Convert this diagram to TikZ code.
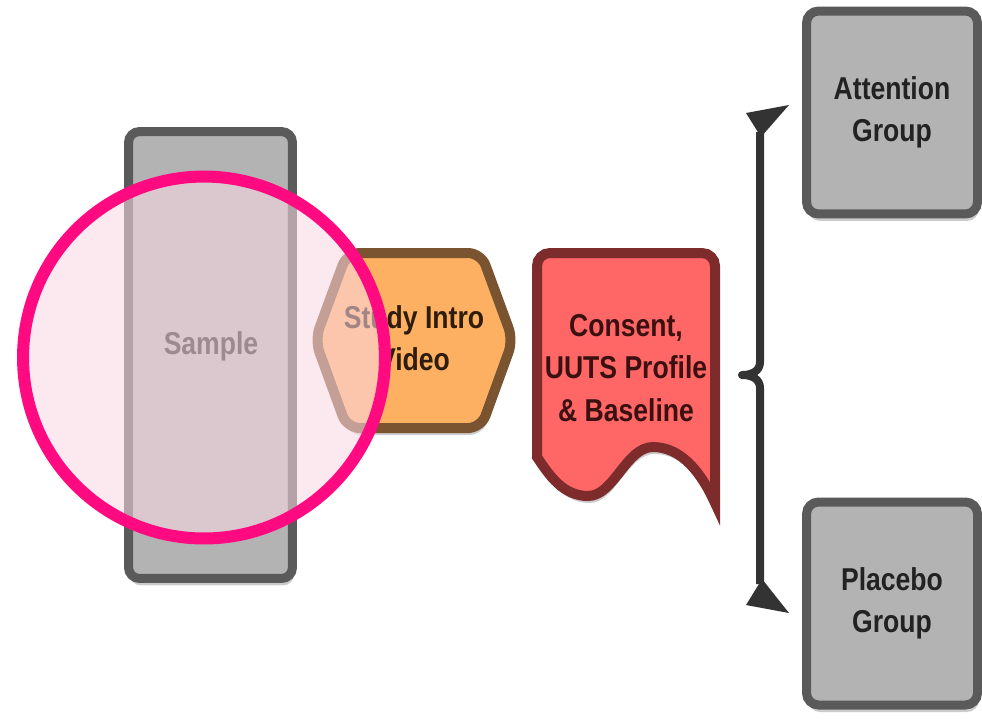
\documentclass[tikz,border=0pt]{standalone}
\usepackage{fontspec}
\setmainfont{Liberation Sans}[FakeStretch=0.84]
\usetikzlibrary{shadows}
\definecolor{boxfill}{HTML}{B3B3B3}
\definecolor{boxdraw}{HTML}{5A5A5A}
\definecolor{hexfill}{HTML}{FDB062}
\definecolor{hexdraw}{HTML}{7A5430}
\definecolor{docfill}{HTML}{FF6666}
\definecolor{docdraw}{HTML}{7E2B2B}
\definecolor{bracecol}{HTML}{333333}
\definecolor{ringcol}{HTML}{FF0A80}
\definecolor{pinkfill}{HTML}{FBD8E4}
\definecolor{textdark}{HTML}{222222}
\definecolor{hextext}{HTML}{2E1C0C}
\definecolor{doctext}{HTML}{3A1010}
\begin{document}
\begin{tikzpicture}[x=0.02cm,y=-0.02cm,
  softshadow/.style={drop shadow={shadow xshift=0.03cm,shadow yshift=-0.14cm,opacity=0.2,fill=black}},
  lbl/.style={font=\bfseries\fontsize{18}{24}\selectfont,align=center,inner sep=0pt},
  grpbox/.style={draw=boxdraw,fill=boxfill,line width=0.18cm,rounded corners=0.24cm,
    minimum width=3.42cm,minimum height=4.06cm,inner sep=0pt,softshadow,lbl,text=textdark},
  bracestroke/.style={draw=bracecol,line width=0.16cm}]
\fill[white] (0,0) rectangle (982,725);
\useasboundingbox (0,0) rectangle (982,725);

% Sample box
\node (sample) [draw=boxdraw,fill=boxfill,line width=0.18cm,rounded corners=0.22cm,
  minimum width=3.28cm,minimum height=8.94cm,inner sep=0pt,softshadow] at (210.5,355) {};
\node (sampletext) [lbl,text=textdark] at (211,346) {Sample};

% Study intro hexagon
\path[softshadow,fill=hexfill,draw=hexdraw,line width=0.2cm,rounded corners=0.26cm]
  (315,340) -- (347,253) -- (481,253) -- (513,340) -- (481,428) -- (347,428) -- cycle;
\node (intro) [lbl,text=hextext] at (414,338) {Study Intro\\Video};

% Consent document
\path[softshadow,fill=docfill,draw=docdraw,line width=0.2cm]
  (537,457) [rounded corners=0.26cm] -- (537,253) -- (715,253) [sharp corners] -- (715,503)
  .. controls (702,474) and (682,447) .. (653,447)
  .. controls (626,447) and (614,496) .. (588,496)
  .. controls (563,496) and (549,475) .. (537,457) -- cycle;
\node (consent) [lbl,text=doctext,font=\bfseries\fontsize{18}{24.4}\selectfont] at (626,368)
  {Consent,\\UUTS Profile\\\& Baseline};

% Highlight ring
\node (focus) [circle,draw=ringcol,line width=0.24cm,fill=pinkfill,fill opacity=0.57,
  draw opacity=1,minimum size=7.24cm,inner sep=0pt] at (204,357.5) {};

% Groups
\node (attention) [grpbox] at (892,112.5) {Attention\\Group};
\node (placebo) [grpbox] at (892,603.5) {Placebo\\Group};

% Brace
\coordinate (btop) at (760,132);
\coordinate (bmid) at (742,375);
\coordinate (bbot) at (760,584);
\draw[bracestroke,line join=round]
  (btop) -- (760,362) .. controls (760,371) and (752,375) .. (bmid)
  .. controls (752,375) and (760,379) .. (760,388) -- (bbot);
\fill[bracecol] (746,113) -- (789,105) -- (761,137) -- cycle;
\fill[bracecol] (746,605) -- (789,613) -- (762,579) -- cycle;
\end{tikzpicture}
\end{document}
